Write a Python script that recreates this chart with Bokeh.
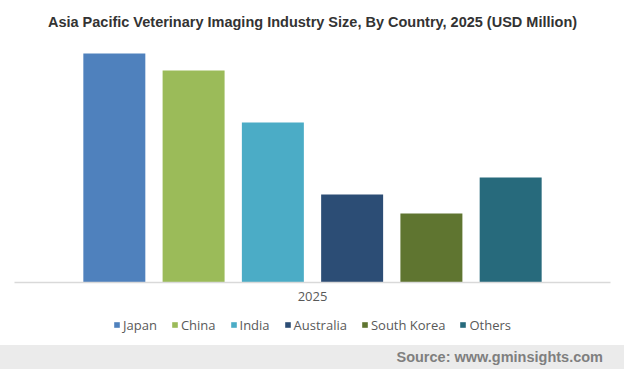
from bokeh.plotting import figure
from bokeh.models import ColumnDataSource, FactorRange, Range1d, Legend, LegendItem, Div
from bokeh.layouts import column
from bokeh.transform import dodge
from bokeh.embed import file_html
from bokeh.resources import INLINE

title = "Asia Pacific Veterinary Imaging Industry Size, By Country, 2025 (USD Million)"
source_text = "Source: www.gminsights.com"
year = "2025"
countries = ["Japan", "China", "India", "Australia", "South Korea", "Others"]
values = [114.5, 106.0, 80.0, 44.0, 34.5, 52.5]
colors = ["#4f81bd", "#9bbb59", "#4bacc6", "#2c4d75", "#5f7530", "#276a7c"]

pitch = 0.133
bar_w = 0.104

p = figure(width=624, height=304, output_backend="svg", toolbar_location=None,
           x_range=FactorRange(factors=[year], range_padding=0),
           y_range=Range1d(0, 124.5),
           min_border_left=14, min_border_right=14, min_border_top=33, min_border_bottom=22)

n = len(countries)
for i, (c, v, col) in enumerate(zip(countries, values, colors)):
    src = ColumnDataSource(dict(year=[year], value=[v]))
    p.vbar(x=dodge("year", (i - (n - 1) / 2) * pitch, range=p.x_range), top="value",
           width=bar_w, source=src, fill_color=col, line_color=None)

p.title.text = title
p.title.align = "center"
p.title.text_font = "Liberation Sans"
p.title.text_font_size = "14.5px"
p.title.text_font_style = "bold"
p.title.text_color = "#333333"
p.title.standoff = 8

p.yaxis.visible = False
p.xgrid.grid_line_color = None
p.ygrid.grid_line_color = None
p.outline_line_color = None
p.xaxis.axis_line_color = "#d9d9d9"
p.xaxis.axis_line_width = 1.5
p.xaxis.major_tick_line_color = None
p.xaxis.minor_tick_line_color = None
p.xaxis.major_label_text_font = "Open Sans"
p.xaxis.major_label_text_font_size = "13px"
p.xaxis.major_label_text_color = "#595959"
p.xaxis.major_label_standoff = 3

# legend strip (zero-height swatch bars carry the legend colours)
p2 = figure(width=624, height=41, output_backend="svg", toolbar_location=None,
            x_range=FactorRange(factors=countries), y_range=Range1d(0, 1),
            x_axis_location=None, y_axis_location=None,
            min_border_left=0, min_border_right=0, min_border_top=0, min_border_bottom=0)
p2.xgrid.grid_line_color = None
p2.ygrid.grid_line_color = None
p2.outline_line_color = None
lsrc = ColumnDataSource(dict(country=countries, color=colors, zero=[0] * n))
lr = p2.vbar(x="country", top="zero", bottom="zero", width=0.5, source=lsrc,
             fill_color="color", line_color=None)
items = [LegendItem(label=c, renderers=[lr], index=i) for i, c in enumerate(countries)]
legend = Legend(items=items, orientation="horizontal", location="center",
                glyph_width=7, glyph_height=7, label_standoff=3, spacing=14,
                label_text_font="Open Sans", label_text_font_size="13px",
                label_text_color="#595959", padding=0, margin=0,
                border_line_color=None, background_fill_alpha=0)
p2.add_layout(legend, "center")

footer = Div(text=source_text, width=624, height=24, margin=0,
             styles={"background-color": "#ebebeb", "color": "#7f7f7f",
                     "font-family": "Liberation Sans", "font-weight": "bold",
                     "font-size": "14.5px", "text-align": "right",
                     "padding-right": "21px", "line-height": "24px",
                     "box-sizing": "border-box", "width": "624px", "height": "24px"})

layout = column(p, p2, footer, spacing=0)
open("out.html", "w").write(file_html(layout, INLINE))
